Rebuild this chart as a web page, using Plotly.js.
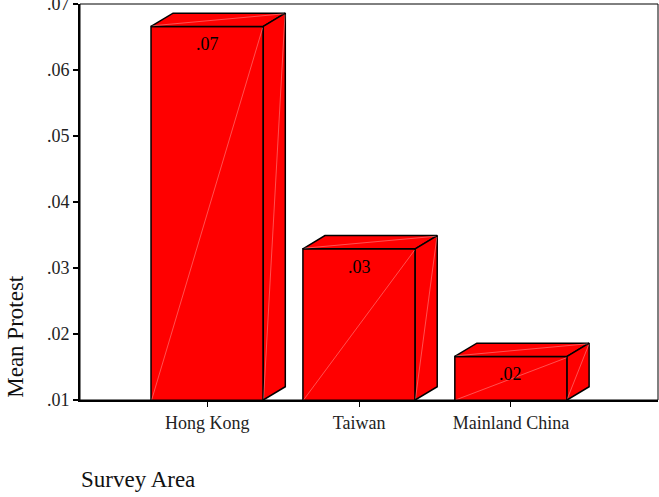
<!DOCTYPE html>
<html>
<head>
<meta charset="utf-8">
<script src="https://cdn.plot.ly/plotly-3.0.1.min.js"></script>
<style>
  html, body { margin: 0; padding: 0; background: #fff; }
  #chart { width: 659px; height: 497px; }
</style>
</head>
<body>
<div id="chart"></div>
<script>
// Mean protest by survey area
const categories = ['Hong Kong', 'Taiwan', 'Mainland China'];
const meanProtest = [0.0666, 0.0329, 0.0166];
const yTickVals = [0.01, 0.02, 0.03, 0.04, 0.05, 0.06, 0.07];
const yTickText = ['.01', '.02', '.03', '.04', '.05', '.06', '.07'];

// Box geometry (in axis units)
const yFloor = 0.01, yTop = 0.07;
const barWidth = 0.739;
const depthX = 0.145, depthY = 0.00201;
const RED = '#ff0000';
const EDGE = { color: '#000', width: 1.5 };
const SEAM = { color: 'rgba(255,180,180,0.75)', width: 0.6 };
const SERIF = '"Liberation Serif", "Times New Roman", serif';

const idx = categories.map((_, i) => i);
const label = v => v.toFixed(2).replace(/^0/, '');

const traces = [];

// Front faces
traces.push({
  type: 'bar',
  x: idx,
  y: meanProtest,
  width: barWidth,
  marker: { color: RED, line: EDGE },
  hoverinfo: 'skip'
});

// Top and side faces of each box, plus the faint triangulation seams
meanProtest.forEach((v, i) => {
  const xl = i - barWidth / 2, xr = i + barWidth / 2;
  traces.push({
    type: 'scatter', mode: 'lines', fill: 'toself', fillcolor: RED, line: EDGE,
    x: [xl, xl + depthX, xr + depthX, xr, xl],
    y: [v, v + depthY, v + depthY, v, v],
    hoverinfo: 'skip'
  });
  traces.push({
    type: 'scatter', mode: 'lines', fill: 'toself', fillcolor: RED, line: EDGE,
    x: [xr, xr, xr + depthX, xr + depthX, xr],
    y: [yFloor, v, v + depthY, yFloor + depthY, yFloor],
    hoverinfo: 'skip'
  });
  traces.push({
    type: 'scatter', mode: 'lines', line: SEAM,
    x: [xl + 0.004, xr - 0.004, null, xl + 0.01, xr + depthX - 0.01, null, xr + depthX - 0.002, xr + 0.002],
    y: [yFloor, v - 0.0002, null, v + 0.0001, v + depthY - 0.0001, null, v + depthY - 0.0002, yFloor + 0.0002],
    hoverinfo: 'skip'
  });
});

// Value labels just inside the top of each front face
const valueLabels = meanProtest.map((v, i) => ({
  text: label(v), x: i, y: v, xref: 'x', yref: 'y',
  xanchor: 'center', yanchor: 'top', yshift: -6, showarrow: false,
  font: { family: SERIF, size: 18, color: '#000' }
}));

const layout = {
  width: 659,
  height: 497,
  margin: { l: 80, r: 1, t: 4, b: 97 },
  paper_bgcolor: '#fff',
  plot_bgcolor: '#fff',
  showlegend: false,
  font: { family: SERIF, size: 18, color: '#222' },
  xaxis: {
    range: [-0.837, 2.968],
    tickvals: idx,
    ticktext: categories,
    ticks: 'outside', ticklen: 5, tickwidth: 1, tickcolor: '#000',
    showline: true, linewidth: 2, linecolor: '#000',
    showgrid: false, zeroline: false, fixedrange: true
  },
  yaxis: {
    range: [yFloor, yTop + 1e-7],
    tickvals: yTickVals,
    ticktext: yTickText,
    ticks: 'outside', ticklen: 5, tickwidth: 1.5, tickcolor: '#000',
    showline: true, linewidth: 2, linecolor: '#000',
    showgrid: false, zeroline: false, fixedrange: true,
    ticklabeloverflow: 'allow'
  },
  shapes: [{
    type: 'rect', xref: 'paper', yref: 'paper', x0: 0, x1: 1, y0: 0, y1: 1,
    line: { color: '#000', width: 1 }, layer: 'above'
  }],
  annotations: valueLabels.concat([
    {
      text: 'Mean Protest', textangle: -90, showarrow: false,
      xref: 'paper', yref: 'paper', x: -0.112, y: 0, xanchor: 'center', yanchor: 'bottom',
      font: { size: 23, color: '#111' }
    },
    {
      text: 'Survey Area', showarrow: false,
      xref: 'paper', yref: 'paper', x: -0.002, y: -0.202, xanchor: 'left', yanchor: 'middle',
      font: { size: 23, color: '#111' }
    }
  ])
};

Plotly.newPlot('chart', traces, layout, { displayModeBar: false, staticPlot: true });
</script>
</body>
</html>
